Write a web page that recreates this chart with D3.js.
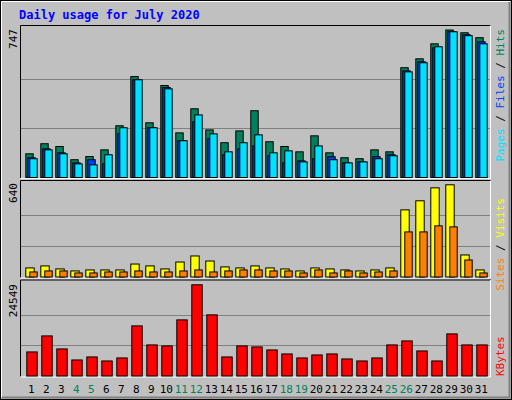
<!DOCTYPE html>
<html><head><meta charset="utf-8">
<script src="https://cdn.jsdelivr.net/npm/d3@7/dist/d3.min.js"></script>
<style>body{margin:0;background:#fff}</style></head>
<body><svg id="c" width="512" height="400"></svg>
<script>
const days = d3.range(1,32);
const weekends = [4,5,11,12,18,19,25,26];
const hits  = [120,171,157,90,106,140,262,511,277,466,226,348,241,176,236,338,181,157,130,211,125,100,95,140,130,556,601,677,747,733,708];
const files = [100,145,125,74,90,69,221,495,252,456,186,282,196,115,145,160,110,74,84,95,105,74,79,105,115,540,586,657,738,723,687];
const pages = [95,140,120,69,64,115,252,495,252,449,186,317,221,130,176,216,125,135,79,160,90,74,79,95,110,535,581,662,738,718,677];
const visits= [63,77,56,42,49,49,49,90,77,56,104,146,111,70,63,77,63,56,42,63,56,49,42,49,63,466,529,619,640,153,49];
const sites = [35,42,42,28,28,35,35,42,35,35,42,49,35,42,49,49,42,42,28,49,28,42,28,35,42,313,313,355,348,118,28];
const kbytes= [6474,10791,7284,4316,5126,4047,4856,13489,8363,8093,15107,24549,16456,5126,8093,7823,7014,5935,4856,5665,5935,4586,4047,4856,8363,9442,6744,4047,11330,8363,8363];
const maxTop=747, maxMid=640, maxBot=24549;

const svg=d3.select("#c");
const font="'DejaVu Sans Mono', monospace";
svg.append("rect").attr("x",0).attr("y",0).attr("width",512).attr("height",400).attr("fill","#c0c0c0");
svg.append("rect").attr("x",0.5).attr("y",0.5).attr("width",511).attr("height",399).attr("fill","none").attr("stroke","#000");
svg.append("path").attr("d","M2,397.5H509.5V2").attr("fill","none").attr("stroke","#808080").attr("stroke-width",2);
svg.append("path").attr("d","M1.5,397V1.5H510").attr("fill","none").attr("stroke","#fff").attr("stroke-width",1);
svg.append("text").attr("x",19).attr("y",19).attr("fill","#0000ff").attr("font-family",font).attr("font-weight","bold").attr("font-size",12).text("Daily usage for July 2020");

const x=d3.scaleBand().domain(days).range([22.3,487.3]);
const panels=[{t:25,b:177,top:29.5},{t:180,b:276.5,top:184.3},{t:279.5,b:375.5,top:284.3}];
panels.forEach(p=>{
  svg.append("rect").attr("x",20).attr("y",p.t).attr("width",471).attr("height",p.b+1-p.t).attr("fill","#c0c0c0");
  svg.append("path").attr("d",`M20.5,${p.b+1}V${p.t+0.5}H491`).attr("stroke","#000").attr("fill","none");
  svg.append("path").attr("d",`M20.5,${p.b+1.5}H490.5V${p.t+0.5}`).attr("stroke","#fff").attr("fill","none");
});
function grid(p){[1/3,2/3].forEach(f=>{const y=Math.round(p.b-(p.b-p.top)*f)+0.5;
  svg.append("line").attr("x1",21).attr("x2",490).attr("y1",y).attr("y2",y).attr("stroke","#808080").attr("stroke-width",1.2);});}
panels.forEach(grid);

function bars(vals,max,p,off,w,col){
  const y=d3.scaleLinear().domain([0,max]).range([p.b,p.top]);
  svg.append("g").selectAll("rect").data(vals).join("rect")
    .attr("x",(d,i)=>x(days[i])+off+0.5).attr("y",d=>y(d)+0.5)
    .attr("width",w).attr("height",d=>p.b-y(d))
    .attr("fill",col).attr("stroke","#000").attr("stroke-width",1);
}
bars(hits,maxTop,panels[0],3,7.4,"#00805c");
bars(files,maxTop,panels[0],5,7.4,"#0040ff");
bars(pages,maxTop,panels[0],7,7.4,"#00e0ff");
bars(visits,maxMid,panels[1],3,8.4,"#ffff00");
bars(sites,maxMid,panels[1],7,7.4,"#ff8000");
bars(kbytes,maxBot,panels[2],4,10.4,"#ff0000");

svg.append("g").selectAll("text").data(days).join("text")
  .attr("x",d=>x(d)+x.bandwidth()/2+1.5).attr("y",393).attr("text-anchor","middle")
  .attr("font-family",font).attr("font-size",11)
  .attr("fill",d=>weekends.includes(d)?"#00805c":"#000").text(d=>d);

function vtext(xp,yp,anchor,parts){
  const t=svg.append("text").attr("transform",`translate(${xp},${yp}) rotate(-90)`).attr("text-anchor",anchor)
    .attr("font-family",font).attr("font-size",11);
  parts.forEach(([s,c])=>t.append("tspan").attr("fill",c).text(s));
}
vtext(17,29,"end",[[String(maxTop),"#000"]]);
vtext(17,183,"end",[[String(maxMid),"#000"]]);
vtext(17,284,"end",[[String(maxBot),"#000"]]);
vtext(504,29,"end",[["Pages","#00e0ff"],[" / ","#000"],["Files","#0040ff"],[" / ","#000"],["Hits","#00805c"]]);
vtext(504,198,"end",[["Sites","#ff8000"],[" / ","#000"],["Visits","#ffff00"]]);
vtext(504,376,"start",[["KBytes","#ff0000"]]);
</script></body></html>
